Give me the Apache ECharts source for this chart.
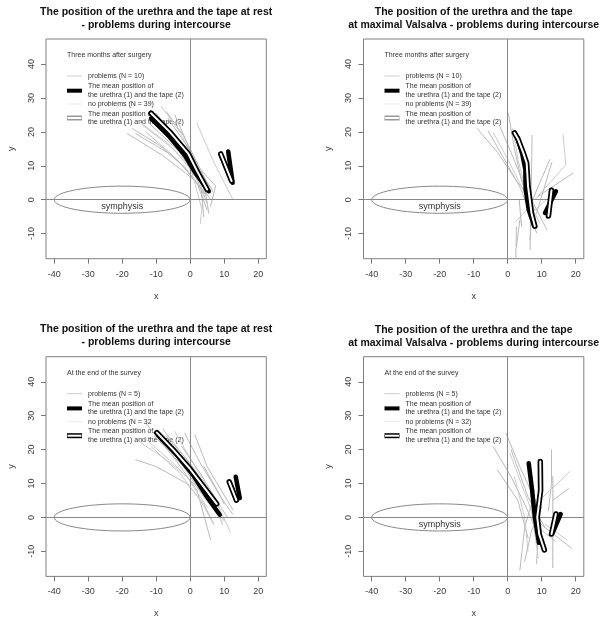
<!DOCTYPE html>
<html><head><meta charset="utf-8">
<script src="https://cdn.jsdelivr.net/npm/echarts@6/dist/echarts.min.js"></script>
<style>html,body{margin:0;padding:0;background:#fff}#c{width:603px;height:621px}</style>
</head><body><div id="c"></div><script>
// ---------- data ----------
const xTicks = [-40, -30, -20, -10, 0, 10, 20];
const yTicks = [-10, 0, 10, 20, 30, 40];
const xRange = [-42.4, 22.4];
const yRange = [-17.4, 47.4];
const symphysis = [-20, 0, 20, 4];      // centre x, centre y, half-width, half-height
const symphysisLabelAt = [-20, -2];
const symphysisLabel = 'symphysis';

const titleRest = 'The position of the urethra and the tape at rest\n- problems during intercourse';
const titleValsalva = 'The position of the urethra and the tape\nat maximal Valsalva - problems during intercourse';
const legendHeaders = ['Three months after surgery', 'Three months after surgery', 'At the end of the survey', 'At the end of the survey'];
const problemLabels = ['problems (N = 10)', 'problems (N = 10)', 'problems (N = 5)', 'problems (N = 5)'];
const noProblemLabels = ['no problems (N = 39)', 'no problems (N = 39)', 'no problems (N = 32', 'no problems (N = 32)'];
const meanLabel = 'The mean position of\nthe urethra (1) and the tape (2)';

// Panel 1: rest, three months
const p1Gray = [
  [[-18.5,19.5],[-8,13],[1,6],[5.3,1]],
  [[-16,19.5],[-6,13.5],[-2,10],[4.5,1.5]],
  [[-14,22],[-5,15],[1,8],[6,0]],
  [[-12,22.5],[-3,14],[2,6],[5,-1]],
  [[-10,25.5],[-4,18],[1,10],[6,2]],
  [[-8.5,27.5],[-3,20],[1,12],[4,3],[3,-7]],
  [[-6.5,24],[-1,16],[3,8],[6.5,3]],
  [[-4.5,25],[-1,17],[3,6],[4,-5]],
  [[2,22.5],[7,11],[12.6,0]],
  [[-1,16],[3,9],[7.5,4],[6,-2]],
  [[-13,20],[-4,12],[2,5],[5,-3]],
  [[-11,24],[-4,17],[2,9],[7,2]],
  [[-7,26],[-2,19],[2,11],[5.5,4]],
  [[-17,21],[-9,16],[-1,9],[4,2]],
  [[-15,23],[-7,17],[0,10],[3.5,-3]],
  [[-9,22],[-2,14],[4,5],[5.5,-4]]
];
const p1Dotted = [];
const p1MeanProbUrethra = [[-11.5,24],[-6,18.5],[-1.5,13],[1.5,8],[5.5,2.5]];
const p1MeanProbTape = [[11.2,14.2],[12.5,5]];
const p1MeanNoProbUrethra = [[-11.5,25.5],[-6,20],[-0.5,13.5],[2,8.5],[5,3]];
const p1MeanNoProbTape = [[9,13.5],[12.2,5.5]];

// Panel 2: Valsalva, three months
const p2Gray = [
  [[-9,21],[-3,14],[3,5],[7.5,0]],
  [[-5.7,20.2],[-1,12],[4,3],[8.5,-9.8]],
  [[-4.2,19.7],[0,12],[5,2],[9.5,-7]],
  [[-2.3,21.6],[1,14],[5,4],[11.5,-8.8]],
  [[0.2,25.5],[2,15],[4,6],[6.5,-2]],
  [[1.5,21],[3,12],[5,4],[8,-3]],
  [[7.2,19],[6.9,2],[6.6,-14.7]],
  [[12.4,11.8],[9,4],[6.6,-2]],
  [[16.3,19.2],[17.1,10.3],[8,0]],
  [[19.3,7.9],[9,1]],
  [[3.6,-5.9],[2.6,-13.8]],
  [[2.4,-6.4],[7.5,-1]],
  [[2.4,-17.2],[2.6,-8]],
  [[6.6,-11.8],[7,-5]],
  [[14.5,3],[6,-5]],
  [[13,11],[8.5,-4]]
];
const p2Dotted = [[[3.4,0],[4.1,-7.9]]];
const p2MeanProbUrethra = [[2.8,18.5],[4.3,13.5],[5.2,9],[5.3,3],[6.2,-3],[7.8,-7.8]];
const p2MeanProbTape = [[11,-3.9],[14.2,2.5]];
const p2MeanNoProbUrethra = [[2,19.7],[3,18],[4.6,13.8],[5.6,10.8],[6,4],[7,-3.9],[8,-7.8]];
const p2MeanNoProbTape = [[12,-4.8],[12.9,2.8]];

// Panel 3: rest, end of survey
const p3Gray = [
  [[-16,17],[-10,15],[-1,10],[4,4],[7,-2]],
  [[-12.8,27.5],[-5,18],[2,8],[6,-6.5]],
  [[-4.5,25.3],[2,14],[8,4],[11.8,-4.3]],
  [[-1.6,24.8],[3,16],[9,6],[12.5,1]],
  [[1.4,24.3],[5,15],[12.6,2.2]],
  [[-11.4,20.8],[-3,13],[3,5],[6.8,-1.8]],
  [[-10.5,24],[-2,15],[4,6],[8,1]],
  [[-8,26],[-1,17],[5,8],[9,0]],
  [[-13,23],[-5,16],[2,9],[7.5,2]],
  [[-6,22],[0,14],[6,5],[10,-1]],
  [[-2.5,21],[3,13],[9,3],[11,0]],
  [[-14.5,22],[-7,17],[-1,12],[5,3]],
  [[4,15],[8,8],[10,4]],
  [[-7,24],[0,16],[6,7],[9.5,-2]]
];
const p3Dotted = [];
const p3MeanProbUrethra = [[-9.5,24.3],[-4,18.5],[1,12.3],[5,6],[8.7,0.8]];
const p3MeanProbTape = [[13.4,12],[14.6,5.7]];
const p3MeanNoProbUrethra = [[-9.8,25],[-5,20],[-0.2,14.5],[4,9],[7.8,4]];
const p3MeanNoProbTape = [[11.5,10.5],[13.6,5.1]];

// Panel 4: Valsalva, end of survey
const p4Gray = [
  [[-4.2,20.8],[1,12],[5,4],[7.5,-1.8]],
  [[-0.5,24.8],[4,14],[9.5,2.2],[8.5,-13.6]],
  [[0.7,18.9],[4,10],[7,2],[9,-12]],
  [[3.6,-15.5],[5,-3],[7.5,5.6]],
  [[12.9,19.9],[12.9,10],[12,2]],
  [[18.3,13.5],[10.5,6.1]],
  [[17.9,8.5],[13.4,5.1]],
  [[18.8,-9.1],[9.5,-1.8]],
  [[17.4,-6.6],[11,-2]],
  [[14,-7],[9,-3]],
  [[-3,14],[3,5],[6,-6]],
  [[2,12],[5,0],[6,-10]],
  [[5,-13],[7,-4],[10,3]],
  [[1,20],[6,6],[11,-3]]
];
const p4Dotted = [[[13.3,12],[13.3,-15]]];
const p4MeanProbUrethra = [[6.2,16],[7.2,8],[8,0],[9.2,-7.5]];
const p4MeanProbTape = [[13.2,-4.6],[15.6,1]];
const p4MeanNoProbUrethra = [[9.6,16.5],[9.7,8],[8.7,0],[9.3,-5],[10.8,-9.6]];
const p4MeanNoProbTape = [[12.9,-4.9],[14.2,1]];

// ---------- layout ----------
const FF = '"Liberation Sans", Arial, Helvetica, sans-serif';
const W = 220.3, H = 219.7;
const pos = [[46, 39], [363.5, 39], [46, 356.7], [363.5, 356.7]];
const titleTops = [5.2, 5.2, 322.8, 323.5];
const panelData = [
  {gray: p1Gray, dotted: p1Dotted, mpu: p1MeanProbUrethra, mpt: p1MeanProbTape, mnu: p1MeanNoProbUrethra, mnt: p1MeanNoProbTape, title: titleRest, sym: true, legHollow: '#999'},
  {gray: p2Gray, dotted: p2Dotted, mpu: p2MeanProbUrethra, mpt: p2MeanProbTape, mnu: p2MeanNoProbUrethra, mnt: p2MeanNoProbTape, title: titleValsalva, sym: true, legHollow: '#999'},
  {gray: p3Gray, dotted: p3Dotted, mpu: p3MeanProbUrethra, mpt: p3MeanProbTape, mnu: p3MeanNoProbUrethra, mnt: p3MeanNoProbTape, title: titleRest, sym: false, legHollow: '#000'},
  {gray: p4Gray, dotted: p4Dotted, mpu: p4MeanProbUrethra, mpt: p4MeanProbTape, mnu: p4MeanNoProbUrethra, mnt: p4MeanNoProbTape, title: titleValsalva, sym: true, legHollow: '#000'}
];

const grid = [], xAxis = [], yAxis = [], series = [], graphic = [];

function lineS(i, data, color, width, z, type) {
  return {type: 'line', xAxisIndex: i, yAxisIndex: i, data: data, symbol: 'none', showSymbol: false,
    silent: true, animation: false, z: z, clip: false, emphasis: {disabled: true},
    lineStyle: {color: color, width: width, cap: 'round', join: 'round', type: type || 'solid'}};
}

panelData.forEach((p, i) => {
  const [gl, gt] = pos[i];
  grid.push({left: gl, top: gt, width: W, height: H, show: true, borderColor: '#808080', borderWidth: 1,
    backgroundColor: 'transparent', containLabel: false, outerBoundsMode: 'none'});
  xAxis.push({type: 'value', gridIndex: i, min: xRange[0], max: xRange[1],
    axisLine: {show: false, onZero: false},
    axisTick: {show: true, length: 5, customValues: xTicks, lineStyle: {color: '#777'}},
    axisLabel: {customValues: xTicks, fontSize: 9, color: '#3a3a3a', margin: 11, fontFamily: FF},
    splitLine: {show: false},
    name: 'x', nameLocation: 'middle', nameGap: 33, nameTextStyle: {fontSize: 9, color: '#3a3a3a', fontFamily: FF}});
  yAxis.push({type: 'value', gridIndex: i, min: yRange[0], max: yRange[1],
    axisLine: {show: false, onZero: false},
    axisTick: {show: true, length: 5, customValues: yTicks, lineStyle: {color: '#777'}},
    axisLabel: {customValues: yTicks, fontSize: 9, color: '#3a3a3a', margin: 10, rotate: 90, fontFamily: FF},
    splitLine: {show: false},
    name: 'y', nameLocation: 'middle', nameGap: 30, nameTextStyle: {fontSize: 9, color: '#3a3a3a', fontFamily: FF}});

  // symphysis + reference lines
  const showSym = p.sym;
  series.push({type: 'custom', xAxisIndex: i, yAxisIndex: i, data: [symphysis.concat(symphysisLabelAt)],
    silent: true, animation: false, z: 1,
    renderItem: (params, api) => {
      const c = api.coord([api.value(0), api.value(1)]);
      const s = api.size([api.value(2), api.value(3)]);
      const children = [{type: 'ellipse', shape: {cx: c[0], cy: c[1], rx: s[0], ry: s[1]},
        style: {fill: 'none', stroke: '#888', lineWidth: 1}}];
      if (showSym) {
        const l = api.coord([api.value(4), api.value(5)]);
        children.push({type: 'text', x: l[0], y: l[1],
          style: {text: symphysisLabel, align: 'center', verticalAlign: 'middle', fontSize: 9, fontFamily: FF, fill: '#333'}});
      }
      return {type: 'group', children: children};
    },
    markLine: {silent: true, symbol: 'none', animation: false, label: {show: false},
      lineStyle: {color: '#888', width: 1, type: 'solid'}, data: [{xAxis: 0}, {yAxis: 0}]}
  });

  p.gray.forEach((d, k) => series.push(lineS(i, d, k % 3 === 2 ? '#cccccc' : '#bbbbbb', 1, 2)));
  p.dotted.forEach(d => series.push(lineS(i, d, '#aaa', 1, 2, 'dotted')));
  // mean of problems: black thick
  series.push(lineS(i, p.mpu, '#000', 4.5, 5));
  series.push(lineS(i, p.mpt, '#000', 4.5, 5));
  // mean of no problems: hollow (black outline, white inside)
  series.push(lineS(i, p.mnu, '#000', 5.5, 6));
  series.push(lineS(i, p.mnt, '#000', 5.5, 6));
  series.push(lineS(i, p.mnu, '#fff', 2, 7));
  series.push(lineS(i, p.mnt, '#fff', 2, 7));

  // title
  graphic.push({type: 'text', x: gl + W / 2, y: titleTops[i], z: 10,
    style: {text: p.title, align: 'center', verticalAlign: 'top', fontSize: 10.5, fontWeight: 'bold',
      lineHeight: 13, fontFamily: FF, fill: '#111'}});

  // legend
  const lx = gl + 21, lx2 = gl + 36, tx = gl + 42;
  const ts = {fontSize: 7, fontFamily: FF, fill: '#333', verticalAlign: 'middle', align: 'left', lineHeight: 8.3};
  graphic.push({type: 'text', x: lx, y: gt + 16, z: 0, style: Object.assign({text: legendHeaders[i]}, ts)});
  graphic.push({type: 'line', z: 0, shape: {x1: lx, y1: gt + 37, x2: lx2, y2: gt + 37}, style: {stroke: '#ccc', lineWidth: 1}});
  graphic.push({type: 'text', x: tx, y: gt + 37, z: 0, style: Object.assign({text: problemLabels[i]}, ts)});
  graphic.push({type: 'line', z: 0, shape: {x1: lx, y1: gt + 51.7, x2: lx2, y2: gt + 51.7}, style: {stroke: '#000', lineWidth: 4}});
  graphic.push({type: 'text', x: tx, y: gt + 51.7, z: 0, style: Object.assign({text: meanLabel}, ts)});
  graphic.push({type: 'line', z: 0, shape: {x1: lx, y1: gt + 65, x2: lx2, y2: gt + 65}, style: {stroke: '#eaeaea', lineWidth: 1}});
  graphic.push({type: 'text', x: tx, y: gt + 65, z: 0, style: Object.assign({text: noProblemLabels[i]}, ts)});
  graphic.push({type: 'line', z: 0, shape: {x1: lx, y1: gt + 79, x2: lx2, y2: gt + 79}, style: {stroke: p.legHollow, lineWidth: 5}});
  graphic.push({type: 'line', z: 0, shape: {x1: lx + 0.5, y1: gt + 79, x2: lx2 - 0.5, y2: gt + 79}, style: {stroke: '#fff', lineWidth: 2}});
  graphic.push({type: 'text', x: tx, y: gt + 79, z: 0, style: Object.assign({text: meanLabel}, ts)});
});

const chart = echarts.init(document.getElementById('c'), null, {renderer: 'canvas'});
chart.setOption({animation: false, backgroundColor: '#fff', grid, xAxis, yAxis, series, graphic});
</script></body></html>
